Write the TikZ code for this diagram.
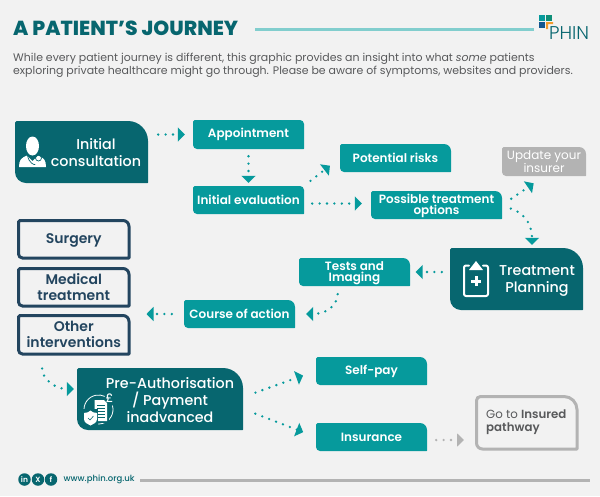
\documentclass[tikz,border=0pt]{standalone}
\usepackage{fontspec}
\setmainfont{Poppins}
\newfontfamily\medfont{Poppins Medium}
\newfontfamily\semifont{Poppins SemiBold}
\newfontfamily\heavyfont{Poppins ExtraBold}
\newfontfamily\lightfont{Poppins Light}
\usetikzlibrary{arrows.meta,calc}
\definecolor{pagebg}{HTML}{F2F2F2}
\definecolor{deepteal}{HTML}{07666F}
\definecolor{midteal}{HTML}{069A9C}
\definecolor{paleteal}{HTML}{82CECE}
\definecolor{navyline}{HTML}{23455F}
\definecolor{softgrey}{HTML}{B3B3B3}
\definecolor{bodygrey}{HTML}{58595B}
\definecolor{logogreen}{HTML}{0E8F78}
\definecolor{logoblue}{HTML}{14568F}
\definecolor{logoorange}{HTML}{F39A2B}
\tikzset{
  darkbox/.style={fill=deepteal,text=white,font=\medfont\fontsize{14.3}{17}\selectfont},
  tealbox/.style={fill=midteal,text=white,font=\semifont\fontsize{12}{10.5}\selectfont},
  greybox/.style={fill=softgrey,text=white,font=\fontsize{12}{10.5}\selectfont},
  navybox/.style={draw=navyline,line width=3pt,text=navyline,font=\semifont\fontsize{14}{16}\selectfont},
  flow/.style={draw=midteal,line width=2.6pt,line cap=round,dash pattern=on 0pt off 7.4pt,
    -{Triangle[length=7pt,width=14pt,fill=midteal,sep=0pt]}},
  flowgrey/.style={flow,draw=softgrey,-{Triangle[length=7pt,width=13pt,fill=softgrey,sep=0pt]}},
  icon/.style={fill=white,draw=none},
  iconline/.style={draw=white,fill=none,line cap=round,line join=round},
  social/.style={circle,fill=deepteal,text=white,minimum size=12.5pt,inner sep=0pt,font=\semifont\fontsize{7.5}{7.5}\selectfont},
}
% Box with its own radius at each corner; the label node carries the name.
% \boxdrop lowers the label inside the box for optical centring.
\def\boxdrop{0}
\newcommand{\journeybox}[9]{%
  \path[#1] (#3,{(#4+#6)/2}) [rounded corners=1.5pt] -- (#3,#4) [rounded corners=#7pt] -- (#5,#4)
    [rounded corners=0.5pt] -- (#5,#6) [rounded corners=#8pt] -- (#3,#6) -- cycle;
  \node[#1,fill=none,draw=none,name=#2,rectangle,inner sep=0pt,align=center,
    minimum width={(#5-#3)*1pt},minimum height={(#6-#4)*1pt}] at ({(#3+#5)/2},{(#4+#6)/2+\boxdrop}) {#9};
}
\begin{document}
\begin{tikzpicture}[x=1pt,y=-1pt]
\useasboundingbox (0,0) rectangle (600,496);
\fill[pagebg] (0,0) rectangle (600,496);

% Heading band
\node[name=title,anchor=west,inner sep=0pt,text=deepteal,font=\heavyfont\fontsize{20.3}{20}\selectfont] at (13,28) {A PATIENT’S JOURNEY};
\coordinate (ruleL) at (255,29.5);
\coordinate (ruleR) at (534,29.5);
\draw[paleteal,line width=3pt] (ruleL) -- (ruleR);
\node[name=intro,anchor=north west,inner sep=0pt,align=left,text=bodygrey,font=\fontsize{10.95}{13}\selectfont] at (13,52.5)
  {While every patient journey is different, this graphic provides an insight into what \textit{some} patients\\
   exploring private healthcare might go through. Please be aware of symptoms, websites and providers.};

% Logo
\fill[midteal] (539,15) rectangle (545,21);
\fill[logogreen] (546,15) rectangle (552,21);
\fill[logoblue] (539,22) rectangle (545,28);
\fill[logoorange] (546,22) -- (553,22) -- (553,24) -- (548,24) -- (548,29) -- (546,29) -- cycle;
\node[name=logo,anchor=west,inner sep=0pt,text=deepteal,font=\lightfont\fontsize{18.5}{18.5}\selectfont] at (549,33) {PHIN};

% Journey boxes
\def\boxdrop{1}
\journeybox{darkbox}{cons}{15}{121}{148}{183}{20}{11}{\hspace*{29pt}Initial\\\hspace*{29pt}consultation}
\journeybox{darkbox}{preauth}{77}{368}{243}{430}{20}{11}{\hspace*{20pt}Pre-Authorisation\\\hspace*{20pt}/ Payment\\\hspace*{20pt}inadvanced}
\journeybox{tealbox}{options}{371}{191}{502}{219}{7}{4}{Possible treatment\\options}
\journeybox{tealbox}{tests}{299}{258}{410}{286}{7}{4}{Tests and\\Imaging}
\journeybox{navybox}{surgery}{18.5}{220.5}{129}{258}{6}{4}{Surgery}
\def\boxdrop{2}
\journeybox{darkbox}{plan}{450}{248}{583}{310}{20}{11}{\hspace*{41pt}Treatment\\\hspace*{41pt}Planning}
\def\boxdrop{0}
\journeybox{tealbox}{appt}{193}{120}{304}{149}{4}{4}{Appointment}
\journeybox{tealbox}{eval}{193}{186}{304}{214}{4}{4}{Initial evaluation}
\journeybox{tealbox}{risks}{340}{144}{451}{172}{7}{4}{Potential risks}
\journeybox{greybox}{insurer}{502}{147}{586}{176}{7}{4}{Update your\\insurer}
\journeybox{tealbox}{course}{184}{300}{295}{328}{7}{4}{Course of action}
\journeybox{navybox}{medical}{18.5}{268.5}{129}{306}{6}{4}{Medical\\treatment}
\journeybox{navybox}{other}{18.5}{315.5}{129}{354}{6}{4}{Other\\interventions}
\journeybox{tealbox}{selfpay}{316}{357}{427}{385}{7}{4}{Self-pay}
\journeybox{tealbox}{insurance}{316}{423}{427}{451}{7}{4}{Insurance}

% Pathway outcome box
\path[draw=softgrey,line width=3pt] (476.5,422) [rounded corners=4pt] -- (476.5,396.5) [rounded corners=13pt] -- (577,396.5)
  [rounded corners=0.5pt] -- (577,449) [rounded corners=6pt] -- (476.5,449) -- cycle;
\node[name=pathway,anchor=west,inner sep=0pt,align=left,text=bodygrey,font=\fontsize{11.8}{13}\selectfont] at (486,422)
  {Go to {\semifont Insured}\\{\semifont pathway}};
\coordinate (pathwayW) at (475,440);

% Connectors
\draw[flow,shorten <=10pt,shorten >=8pt] (cons.east |- appt.west) -- (appt.west);
\draw[flow,shorten <=7pt,shorten >=3pt] (appt.south) -- (eval.north);
\draw[flow,shorten <=8pt,shorten >=12.5pt] (eval.north east) -- (risks.west);
\draw[flow,shorten <=8pt,shorten >=9pt] ([yshift=-3.5pt]eval.east) -- ([yshift=2.5pt]options.west);
\draw[flow,shorten <=11pt,shorten >=12.5pt] ([yshift=1pt]options.east) -- (insurer.south);
\draw[flow,shorten <=9pt,shorten >=5pt] (options.east) .. controls (522,212) and (532,222) .. ([xshift=15.5pt]plan.north);
\draw[flow,shorten <=8pt,shorten >=5.5pt] ([yshift=9pt]plan.west) -- ([yshift=1pt]tests.east);
\draw[flow,shorten <=7pt,shorten >=11pt] ([xshift=-16.5pt]tests.south) .. controls (337,307) and (325,314) .. (course.east);
\draw[flow,shorten <=12pt,shorten >=16pt] (course.west) -- (medical.east |- course.west);
\draw[flow,shorten <=13pt,shorten >=3pt] ([xshift=-31.5pt]other.south) .. controls (42,378) and (54,389) .. ([yshift=11pt]preauth.west);
\draw[flow,shorten <=13pt,shorten >=13.5pt] ([yshift=3pt]preauth.east) -- (selfpay.west);
\draw[flow,shorten <=13pt,shorten >=13.5pt] ([yshift=-9pt]preauth.east) -- (insurance.west);
\draw[flowgrey,shorten <=9pt,shorten >=11pt] ([yshift=-3pt]insurance.east) -- (pathwayW);

% Clinician icon
\fill[icon] (32.5,146) ellipse (6.5 and 9.5);
\fill[icon] (19,167) .. controls (19,160) and (21,158) .. (27,155.5) -- (32.5,161) -- (38,155.5)
  .. controls (44,158) and (46,160) .. (46,167) -- cycle;
\draw[deepteal,line width=0.7pt,line cap=round] (27.5,155.5) .. controls (29,163) and (34,165) .. (35,164.5);
\draw[deepteal,line width=0.7pt] (38.5,158) circle (3);

% Clipboard icon
\draw[iconline,line width=2pt,rounded corners=2pt] (469,265.5) -- (464,265.5) -- (464,296) -- (488,296) -- (488,265.5) -- (483,265.5);
\fill[icon] (476,261) -- (483,270) -- (469,270) -- cycle;
\fill[icon] (474.5,276) rectangle (477.5,286);
\fill[icon] (471,279.5) rectangle (481,282.5);

% Pre-authorisation icon: two arcs round a document, with a shield and a pound sign
\draw[iconline,line width=0.8pt] ({98.5+14.5*cos(190)},{409.5-14.5*sin(190)}) arc[start angle=-190,end angle=-65,radius=14.5];
\draw[iconline,line width=0.8pt] ({98.5+14.5*cos(15)},{409.5-14.5*sin(15)}) arc[start angle=-15,end angle=125,radius=14.5];
\fill[deepteal] (92.5,398) rectangle (109,423);
\fill[icon] (94.5,400) -- (104,400) -- (107,403) -- (107,421) -- (94.5,421) -- cycle;
\foreach \rowy in {405,408,411,414,417} {\draw[deepteal,line width=0.8pt] (97,\rowy) -- (105,\rowy);}
\node[name=pound,inner sep=0pt,text=white,font=\medfont\fontsize{12}{12}\selectfont] at (109.5,398.5) {£};
\fill[deepteal] (82.5,409) rectangle (98,427);
\fill[icon] (84,413) .. controls (87,413) and (89,412) .. (90.5,410.5) .. controls (92,412) and (94,413) .. (97,413)
  -- (97,419) .. controls (97,423) and (93,424) .. (90.5,425.5) .. controls (88,424) and (84,423) .. (84,419) -- cycle;
\draw[deepteal,line width=0.6pt] (88,418) -- (90,420) -- (93.5,416);

% Footer
\node[social,name=linkedin] at (24.5,479.5) {in};
\node[social,name=xsite] at (38,479.5) {X};
\node[social,name=facebook] at (51,479.5) {f};
\node[name=site,anchor=west,inner sep=0pt,text=deepteal,font=\medfont\fontsize{8.5}{8.5}\selectfont] at (63.5,479.5) {www.phin.org.uk};
\coordinate (footL) at (140,480.5);
\coordinate (footR) at (590,480.5);
\draw[softgrey,line width=3pt] (footL) -- (footR);
\end{tikzpicture}
\end{document}
